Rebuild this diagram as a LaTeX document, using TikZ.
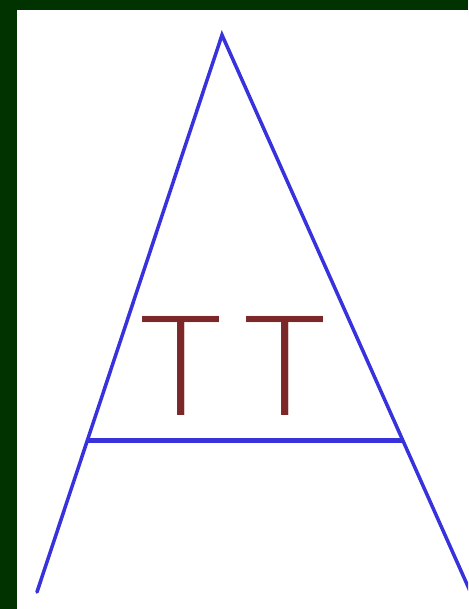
\documentclass[tikz,border=0pt]{standalone}
\usepackage{fontspec}
\newfontfamily\tfont{Lato Light}
\definecolor{bggreen}{RGB}{0,51,0}
\definecolor{lineblue}{RGB}{55,50,220}
\definecolor{tred}{RGB}{125,40,40}
\begin{document}
\begin{tikzpicture}[x=1pt,y=-1pt,
  side/.style={lineblue,line width=3.5pt,line cap=round},
  bar/.style={lineblue,line width=5pt},
  letter/.style={tred,font=\tfont\fontsize{140}{140}\selectfont,inner sep=0pt,anchor=base}]
\fill[bggreen] (0,0) rectangle (468,609);
\fill[white] (17,10) rectangle (468,609);
\useasboundingbox (0,0) rectangle (468,609);
\coordinate (apex) at (222,35);
\coordinate (leftend) at (37,592);
\coordinate (rightend) at (474,600);
\coordinate (barL) at (86,440);
\coordinate (barR) at (404,440);
\begin{scope}
\clip (17,10) rectangle (468,609);
\draw[side] (leftend) -- (apex) -- (rightend);
\draw[bar] (barL) -- (barR);
\end{scope}
\node[letter] (t1) at (181,415) {T};
\node[letter] (t2) at (285,415) {T};
\end{tikzpicture}
\end{document}
